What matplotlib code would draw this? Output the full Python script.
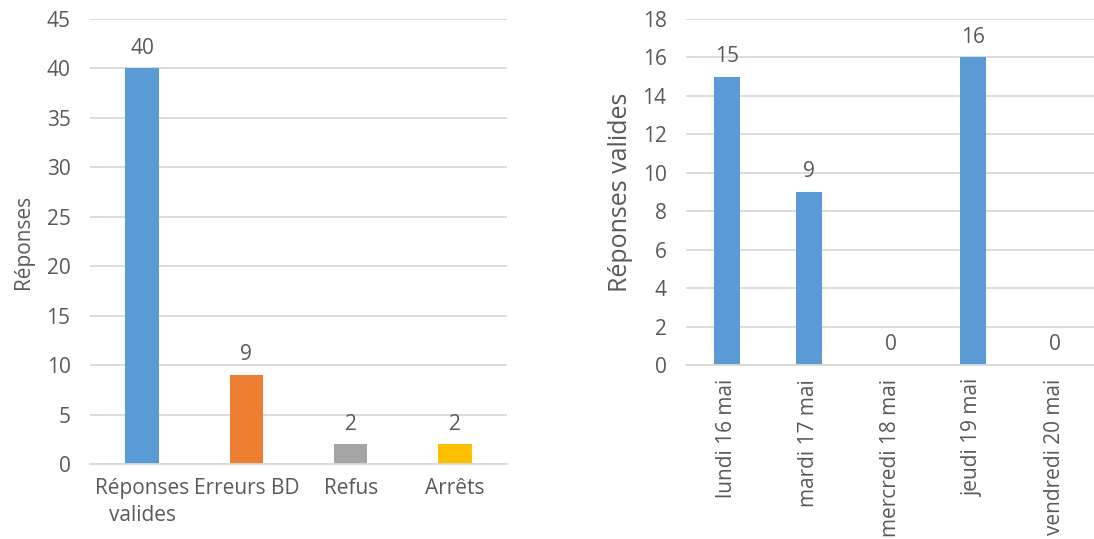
import matplotlib.pyplot as plt

# data
cats_left = ["Réponses\nvalides", "Erreurs BD", "Refus", "Arrêts"]
vals_left = [40, 9, 2, 2]
colors_left = ["#5B9BD5", "#ED7D31", "#A5A5A5", "#FFC000"]

days = ["lundi 16 mai", "mardi 17 mai", "mercredi 18 mai", "jeudi 19 mai", "vendredi 20 mai"]
vals_days = [15, 9, 0, 16, 0]

plt.rcParams['font.family'] = ['Open Sans', 'DejaVu Sans']
txt = "#595959"
grid = "#D9D9D9"
fs = 15

fig = plt.figure(figsize=(10.94, 5.39), dpi=100)
W, H = 1094, 539


def style(ax, ymax, step):
    ax.set_ylim(0, ymax)
    ax.set_yticks(range(0, ymax + 1, step))
    ax.yaxis.grid(True, color=grid, lw=1.3)
    ax.set_axisbelow(True)
    for s in ["top", "right", "left"]:
        ax.spines[s].set_visible(False)
    ax.spines["bottom"].set_color(grid)
    ax.spines["bottom"].set_linewidth(1.3)
    ax.tick_params(length=0, colors=txt, labelsize=fs)
    ax.tick_params(axis="y", pad=14)


# left chart
ax1 = fig.add_axes([90 / W, (H - 464) / H, 417 / W, 445 / H])
x1 = range(len(cats_left))
b1 = ax1.bar(x1, vals_left, width=0.32, color=colors_left)
ax1.set_xlim(-0.5, len(cats_left) - 0.5)
style(ax1, 45, 5)
ax1.set_xticks(list(x1))
ax1.set_xticklabels(cats_left, linespacing=1.4)
ax1.tick_params(axis="x", pad=10)
ax1.bar_label(b1, padding=7, color=txt, fontsize=fs)
ax1.set_ylabel("Réponses", color=txt, fontsize=15, labelpad=9)

# right chart
ax2 = fig.add_axes([686 / W, (H - 365) / H, 410 / W, 346 / H])
x2 = range(len(days))
b2 = ax2.bar(x2, vals_days, width=0.32, color="#5B9BD5")
ax2.set_xlim(-0.5, len(days) - 0.5)
style(ax2, 18, 2)
ax2.set_xticks(list(x2))
ax2.set_xticklabels(days, rotation=90)
ax2.tick_params(axis="x", pad=10)
ax2.bar_label(b2, padding=7, color=txt, fontsize=fs)
ax2.set_ylabel("Réponses valides", color=txt, fontsize=18, labelpad=7)

fig.savefig("out.png", dpi=100)
